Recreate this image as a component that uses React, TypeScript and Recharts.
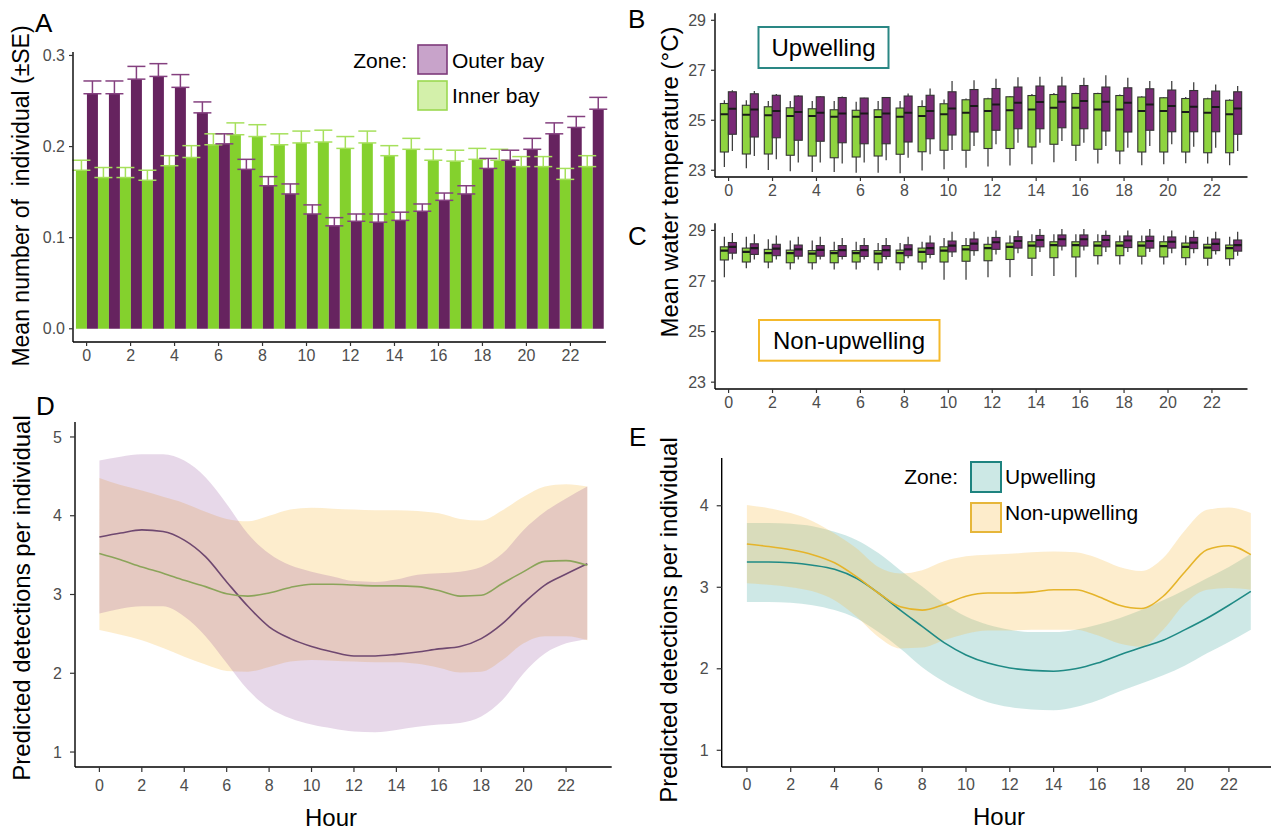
import React from 'react';
import { BarChart, Bar, XAxis, YAxis, ErrorBar, ComposedChart, Area, Line } from 'recharts';

const FONT = '"Liberation Sans", Arial, Helvetica, sans-serif';

// ---------- shared categories ----------
const hours = [0, 1, 2, 3, 4, 5, 6, 7, 8, 9, 10, 11, 12, 13, 14, 15, 16, 17, 18, 19, 20, 21, 22, 23];
const hourTicks = [0, 2, 4, 6, 8, 10, 12, 14, 16, 18, 20, 22];

// ---------- Panel A: mean number of individuals (±SE) ----------
const yTicksA = [0, 0.1, 0.2, 0.3];
const innerMean = [0.174, 0.166, 0.166, 0.163, 0.179, 0.188, 0.202, 0.213, 0.211, 0.202, 0.204, 0.205, 0.198, 0.204, 0.190, 0.197, 0.185, 0.184, 0.186, 0.185, 0.178, 0.178, 0.164, 0.178];
const innerSE = [0.011, 0.011, 0.011, 0.011, 0.011, 0.013, 0.012, 0.013, 0.013, 0.012, 0.013, 0.013, 0.013, 0.013, 0.011, 0.012, 0.012, 0.012, 0.012, 0.012, 0.011, 0.011, 0.012, 0.012];
const outerMean = [0.258, 0.258, 0.274, 0.277, 0.265, 0.237, 0.203, 0.175, 0.157, 0.148, 0.126, 0.113, 0.118, 0.117, 0.119, 0.129, 0.141, 0.148, 0.176, 0.185, 0.197, 0.214, 0.221, 0.241];
const outerSE = [0.014, 0.014, 0.014, 0.014, 0.014, 0.012, 0.011, 0.011, 0.010, 0.011, 0.010, 0.009, 0.008, 0.009, 0.009, 0.008, 0.008, 0.009, 0.011, 0.011, 0.012, 0.012, 0.012, 0.013];

// ---------- Panel B: upwelling water temperature boxes ----------
const tempTicks = [23, 25, 27, 29];
const bInMin = [23.13, 23.08, 23.01, 22.96, 22.93, 22.93, 22.90, 22.90, 22.88, 22.99, 23.04, 23.10, 23.15, 23.19, 23.24, 23.32, 23.37, 23.27, 23.24, 23.20, 23.24, 23.28, 23.27, 23.20];
const bInQ1 = [23.73, 23.65, 23.65, 23.60, 23.57, 23.50, 23.53, 23.57, 23.64, 23.74, 23.80, 23.80, 23.87, 23.87, 23.93, 24.04, 24.00, 23.84, 23.77, 23.73, 23.73, 23.73, 23.70, 23.70];
const bInMed = [25.24, 25.22, 25.20, 25.17, 25.17, 25.14, 25.14, 25.13, 25.14, 25.17, 25.24, 25.30, 25.37, 25.40, 25.43, 25.50, 25.50, 25.43, 25.43, 25.37, 25.37, 25.33, 25.30, 25.24];
const bInQ3 = [25.67, 25.60, 25.54, 25.50, 25.46, 25.42, 25.40, 25.42, 25.49, 25.55, 25.66, 25.82, 25.86, 25.94, 25.99, 26.03, 26.07, 26.07, 25.99, 25.93, 25.90, 25.87, 25.86, 25.80];
const bInMax = [25.80, 25.80, 25.77, 25.77, 25.77, 25.77, 25.74, 25.77, 25.77, 25.80, 25.83, 25.87, 25.90, 25.97, 26.05, 26.09, 26.10, 26.10, 26.03, 25.96, 25.93, 25.93, 25.90, 25.84];
const bOutMin = [23.77, 23.57, 23.44, 23.31, 23.31, 23.27, 23.31, 23.40, 23.50, 23.64, 23.81, 23.97, 24.04, 24.10, 24.10, 24.17, 24.10, 23.97, 23.90, 23.97, 24.04, 23.94, 23.90, 23.77];
const bOutQ1 = [24.44, 24.33, 24.30, 24.20, 24.16, 24.10, 24.06, 24.06, 24.13, 24.26, 24.41, 24.53, 24.60, 24.66, 24.66, 24.70, 24.66, 24.57, 24.53, 24.60, 24.54, 24.54, 24.54, 24.44];
const bOutMed = [25.46, 25.43, 25.37, 25.33, 25.30, 25.27, 25.27, 25.27, 25.30, 25.37, 25.47, 25.57, 25.63, 25.70, 25.73, 25.74, 25.77, 25.74, 25.70, 25.63, 25.57, 25.54, 25.53, 25.47];
const bOutQ3 = [26.14, 26.06, 26.00, 25.97, 25.94, 25.91, 25.89, 25.91, 25.97, 26.00, 26.14, 26.23, 26.27, 26.33, 26.37, 26.37, 26.39, 26.33, 26.30, 26.26, 26.21, 26.19, 26.17, 26.14];
const bOutMax = [26.20, 26.17, 26.05, 26.00, 25.97, 25.95, 25.90, 25.93, 26.07, 26.27, 26.57, 26.60, 26.66, 26.72, 26.74, 26.74, 26.70, 26.80, 26.70, 26.57, 26.57, 26.52, 26.43, 26.37];

// ---------- Panel C: non-upwelling water temperature boxes ----------
const cInMin = [27.15, 27.50, 27.50, 27.45, 27.45, 27.45, 27.45, 27.42, 27.42, 27.45, 27.05, 27.05, 27.15, 27.15, 27.20, 27.20, 27.15, 27.65, 27.65, 27.65, 27.65, 27.62, 27.60, 27.60];
const cInQ1 = [27.83, 27.75, 27.75, 27.72, 27.72, 27.72, 27.75, 27.72, 27.72, 27.75, 27.75, 27.78, 27.80, 27.85, 27.90, 27.92, 27.95, 28.00, 28.00, 27.98, 27.95, 27.92, 27.90, 27.88];
const cInMed = [28.20, 28.15, 28.10, 28.10, 28.08, 28.10, 28.10, 28.08, 28.10, 28.15, 28.20, 28.25, 28.30, 28.35, 28.40, 28.42, 28.42, 28.40, 28.40, 28.40, 28.38, 28.35, 28.32, 28.30];
const cInQ3 = [28.35, 28.30, 28.25, 28.22, 28.20, 28.20, 28.20, 28.20, 28.22, 28.30, 28.35, 28.40, 28.45, 28.50, 28.55, 28.55, 28.55, 28.55, 28.55, 28.55, 28.55, 28.50, 28.45, 28.42];
const cInMax = [28.75, 28.75, 28.65, 28.60, 28.60, 28.55, 28.55, 28.50, 28.50, 28.55, 28.70, 28.70, 28.75, 28.80, 28.85, 28.85, 28.85, 28.85, 28.80, 28.80, 28.80, 28.80, 28.75, 28.75];
const cOutMin = [27.85, 27.85, 27.85, 27.85, 27.85, 27.85, 27.85, 27.85, 27.90, 27.90, 27.95, 28.00, 28.05, 28.10, 28.15, 28.20, 28.20, 28.15, 28.15, 28.15, 28.10, 28.10, 28.05, 28.00];
const cOutQ1 = [28.10, 28.05, 28.00, 27.98, 27.98, 27.97, 27.97, 27.97, 28.00, 28.05, 28.15, 28.20, 28.25, 28.30, 28.35, 28.38, 28.38, 28.35, 28.32, 28.30, 28.30, 28.28, 28.20, 28.18];
const cOutMed = [28.35, 28.30, 28.28, 28.25, 28.23, 28.22, 28.22, 28.22, 28.25, 28.30, 28.40, 28.48, 28.53, 28.58, 28.62, 28.65, 28.65, 28.62, 28.60, 28.58, 28.55, 28.52, 28.47, 28.42];
const cOutQ3 = [28.52, 28.47, 28.45, 28.42, 28.40, 28.40, 28.40, 28.40, 28.43, 28.50, 28.58, 28.66, 28.72, 28.75, 28.80, 28.82, 28.82, 28.80, 28.78, 28.77, 28.74, 28.72, 28.66, 28.62];
const cOutMax = [28.90, 28.85, 28.80, 28.75, 28.75, 28.70, 28.70, 28.70, 28.75, 28.80, 28.95, 28.95, 29.00, 29.00, 29.05, 29.05, 29.05, 29.00, 29.00, 29.05, 29.00, 29.00, 28.95, 28.95];

// ---------- Panel D: predicted detections, outer vs inner bay ----------
const dTicksY = [1, 2, 3, 4, 5];
const dOuterMid = [3.73, 3.78, 3.82, 3.80, 3.69, 3.48, 3.16, 2.85, 2.59, 2.44, 2.34, 2.27, 2.22, 2.22, 2.24, 2.27, 2.31, 2.34, 2.44, 2.63, 2.89, 3.12, 3.26, 3.39];
const dOuterHi = [4.70, 4.75, 4.78, 4.78, 4.70, 4.49, 4.15, 3.77, 3.52, 3.37, 3.29, 3.23, 3.17, 3.16, 3.19, 3.25, 3.27, 3.29, 3.35, 3.52, 3.82, 4.05, 4.22, 4.37];
const dOuterLo = [2.76, 2.82, 2.85, 2.85, 2.72, 2.47, 2.13, 1.79, 1.56, 1.43, 1.35, 1.30, 1.26, 1.25, 1.28, 1.32, 1.35, 1.37, 1.45, 1.66, 2.00, 2.25, 2.38, 2.43];
const dInnerMid = [3.52, 3.44, 3.35, 3.27, 3.18, 3.10, 3.01, 2.98, 3.02, 3.09, 3.13, 3.13, 3.12, 3.11, 3.11, 3.10, 3.05, 2.98, 2.99, 3.14, 3.29, 3.42, 3.43, 3.37];
const dInnerHi = [4.48, 4.39, 4.32, 4.24, 4.16, 4.05, 3.96, 3.93, 4.00, 4.08, 4.10, 4.09, 4.08, 4.07, 4.07, 4.06, 4.03, 3.96, 3.94, 4.07, 4.24, 4.37, 4.40, 4.37];
const dInnerLo = [2.55, 2.49, 2.42, 2.32, 2.21, 2.11, 2.03, 2.02, 2.08, 2.15, 2.17, 2.16, 2.15, 2.14, 2.14, 2.12, 2.07, 2.01, 2.02, 2.17, 2.38, 2.47, 2.47, 2.42];

// ---------- Panel E: predicted detections, upwelling vs non-upwelling ----------
const eTicksY = [1, 2, 3, 4];
const eUpMid = [3.31, 3.31, 3.30, 3.27, 3.22, 3.11, 2.93, 2.72, 2.52, 2.32, 2.17, 2.07, 2.01, 1.98, 1.97, 2.00, 2.07, 2.17, 2.26, 2.35, 2.48, 2.62, 2.78, 2.95];
const eUpHi = [3.79, 3.79, 3.78, 3.75, 3.68, 3.58, 3.42, 3.21, 3.01, 2.80, 2.64, 2.54, 2.48, 2.45, 2.45, 2.48, 2.54, 2.62, 2.72, 2.84, 2.97, 3.11, 3.25, 3.41];
const eUpLo = [2.82, 2.82, 2.81, 2.78, 2.72, 2.62, 2.45, 2.25, 2.02, 1.84, 1.70, 1.59, 1.53, 1.50, 1.49, 1.53, 1.61, 1.72, 1.82, 1.92, 2.04, 2.19, 2.33, 2.48];
const eNonMid = [3.53, 3.50, 3.46, 3.40, 3.30, 3.13, 2.93, 2.76, 2.72, 2.79, 2.89, 2.93, 2.93, 2.94, 2.97, 2.97, 2.89, 2.78, 2.74, 2.89, 3.19, 3.46, 3.51, 3.40];
const eNonHi = [4.01, 3.97, 3.91, 3.81, 3.66, 3.48, 3.25, 3.17, 3.21, 3.32, 3.38, 3.40, 3.41, 3.43, 3.44, 3.43, 3.36, 3.25, 3.20, 3.36, 3.70, 3.95, 3.98, 3.91];
const eNonLo = [3.05, 3.03, 3.00, 2.95, 2.84, 2.64, 2.39, 2.25, 2.26, 2.35, 2.43, 2.47, 2.47, 2.48, 2.48, 2.48, 2.41, 2.31, 2.27, 2.48, 2.80, 2.97, 2.99, 2.97];

// ---------- tables built from the arrays ----------
const tableA = hours.map((h, i) => ({
  hour: h,
  inner: innerMean[i],
  outer: outerMean[i],
  innerErr: [0, innerSE[i]],
  outerErr: [0, outerSE[i]],
}));

const stats = (mn: number[], q1: number[], md: number[], q3: number[], mx: number[], i: number) => ({
  min: mn[i], q1: q1[i], med: md[i], q3: q3[i], max: mx[i],
});

const tableB = hours.map((h, i) => ({
  hour: h,
  inner: stats(bInMin, bInQ1, bInMed, bInQ3, bInMax, i),
  outer: stats(bOutMin, bOutQ1, bOutMed, bOutQ3, bOutMax, i),
}));
const tableC = hours.map((h, i) => ({
  hour: h,
  inner: stats(cInMin, cInQ1, cInMed, cInQ3, cInMax, i),
  outer: stats(cOutMin, cOutQ1, cOutMed, cOutQ3, cOutMax, i),
}));
const tableD = hours.map((h, i) => ({
  hour: h,
  outerMid: dOuterMid[i], outerBand: [dOuterLo[i], dOuterHi[i]],
  innerMid: dInnerMid[i], innerBand: [dInnerLo[i], dInnerHi[i]],
}));
const tableE = hours.map((h, i) => ({
  hour: h,
  upMid: eUpMid[i], upBand: [eUpLo[i], eUpHi[i]],
  nonMid: eNonMid[i], nonBand: [eNonLo[i], eNonHi[i]],
}));

// ---------- styles ----------
const tickStyle = { fill: '#4d4d4d', fontSize: 16, fontFamily: FONT };
const axisLine = { stroke: '#000', strokeWidth: 1.4 };
const tickLine = { stroke: '#333', strokeWidth: 1.2 };

const PURPLE_BAR = '#66235f';
const GREEN_BAR = '#84d12d';

function makeBoxShape(key: 'inner' | 'outer', fill: string) {
  return (props: any) => {
    const { x, y, width, height, payload } = props;
    const s = payload[key];
    const top = Math.min(y, y + height);
    const bot = Math.max(y, y + height);
    const span = s.max - s.min || 1;
    const px = (v: number) => bot - ((v - s.min) / span) * (bot - top);
    const cx = x + width / 2;
    return (
      <g>
        <line x1={cx} x2={cx} y1={px(s.max)} y2={px(s.q3)} stroke="#333" strokeWidth={1.2} />
        <line x1={cx} x2={cx} y1={px(s.q1)} y2={px(s.min)} stroke="#333" strokeWidth={1.2} />
        <rect x={x} y={px(s.q3)} width={width} height={Math.max(0.5, px(s.q1) - px(s.q3))} fill={fill} stroke="#333" strokeWidth={1.1} />
        <line x1={x} x2={x + width} y1={px(s.med)} y2={px(s.med)} stroke="#1a1a1a" strokeWidth={2.2} />
      </g>
    );
  };
}

function TempPanel({ data, top, height, marginTop, xHeight }: any) {
  return (
    <div style={{ position: 'absolute', left: 620, top }}>
      <BarChart width={651} height={height} data={data} margin={{ top: marginTop, right: 23.5, bottom: 0, left: 0 }} barCategoryGap="12.5%" barGap={0}>
        <XAxis dataKey="hour" interval={1} padding={{ left: 2.6, right: 2.6 }} height={xHeight} tick={tickStyle} tickSize={4} tickMargin={4} axisLine={axisLine} tickLine={tickLine} />
        <YAxis width={95} domain={[22.73, 29.28]} ticks={tempTicks} allowDataOverflow tick={tickStyle} tickSize={4} tickMargin={5} axisLine={axisLine} tickLine={tickLine} />
        <Bar dataKey={(d: any) => [d.inner.min, d.inner.max]} isAnimationActive={false} shape={makeBoxShape('inner', '#8fd440')} />
        <Bar dataKey={(d: any) => [d.outer.min, d.outer.max]} isAnimationActive={false} shape={makeBoxShape('outer', '#7a2a77')} />
      </BarChart>
    </div>
  );
}

export default function App() {
  return (
    <div style={{ position: 'absolute', left: 0, top: 0, width: 1271, height: 832, overflow: 'hidden', background: '#fff', fontFamily: FONT }}>
      {/* Panel A */}
      <div style={{ position: 'absolute', left: 0, top: 0 }}>
        <BarChart width={620} height={380} data={tableA} margin={{ top: 52, right: 14, bottom: 0, left: 0 }} barCategoryGap="1.5%" barGap={0}>
          <XAxis dataKey="hour" interval={1} padding={{ left: 2.6, right: 2.6 }} height={38} tick={tickStyle} tickSize={4} tickMargin={4} axisLine={axisLine} tickLine={tickLine} />
          <YAxis width={73} domain={[-0.0145, 0.3038]} ticks={yTicksA} allowDataOverflow tickFormatter={(v: number) => v.toFixed(1)} tick={tickStyle} tickSize={4} tickMargin={4} axisLine={axisLine} tickLine={tickLine} />
          <Bar dataKey="inner" fill={GREEN_BAR} isAnimationActive={false}>
            <ErrorBar dataKey="innerErr" width={9} stroke="#a6e05c" strokeWidth={1.5} direction="y" />
          </Bar>
          <Bar dataKey="outer" fill={PURPLE_BAR} isAnimationActive={false}>
            <ErrorBar dataKey="outerErr" width={9} stroke="#84407f" strokeWidth={1.5} direction="y" />
          </Bar>
        </BarChart>
      </div>

      {/* Panel B */}
      <TempPanel data={tableB} top={0} height={205} marginTop={13.3} xHeight={28} />
      {/* Panel C */}
      <TempPanel data={tableC} top={210} height={210} marginTop={13.3} xHeight={31} />

      {/* Panel D */}
      <div style={{ position: 'absolute', left: 0, top: 400 }}>
        <ComposedChart width={630} height={432} data={tableD} margin={{ top: 22, right: 18.3, bottom: 0, left: 0 }}>
          <XAxis dataKey="hour" type="number" domain={[-1.15, 24.15]} ticks={hourTicks} allowDataOverflow height={65} tick={tickStyle} tickSize={5} tickMargin={8} axisLine={axisLine} tickLine={tickLine} />
          <YAxis width={75} domain={[0.81, 5.19]} ticks={dTicksY} allowDataOverflow tick={tickStyle} tickSize={5} tickMargin={8} axisLine={axisLine} tickLine={tickLine} />
          <Area dataKey="innerBand" type="monotone" stroke="none" fill="#f8c04a" fillOpacity={0.28} isAnimationActive={false} />
          <Area dataKey="outerBand" type="monotone" stroke="none" fill="#873c91" fillOpacity={0.2} isAnimationActive={false} />
          <Line dataKey="outerMid" type="monotone" stroke="#6f4870" strokeWidth={1.6} dot={false} activeDot={false} isAnimationActive={false} />
          <Line dataKey="innerMid" type="monotone" stroke="#8ba45a" strokeWidth={1.6} dot={false} activeDot={false} isAnimationActive={false} />
        </ComposedChart>
      </div>

      {/* Panel E */}
      <div style={{ position: 'absolute', left: 630, top: 400 }}>
        <ComposedChart width={660} height={432} data={tableE} margin={{ top: 58, right: 14, bottom: 0, left: 0 }}>
          <XAxis dataKey="hour" type="number" domain={[-1.15, 24.15]} ticks={hourTicks} allowDataOverflow height={65} tick={tickStyle} tickSize={5} tickMargin={7} axisLine={axisLine} tickLine={tickLine} />
          <YAxis width={91.7} domain={[0.795, 4.586]} ticks={eTicksY} allowDataOverflow tick={tickStyle} tickSize={5} tickMargin={8} axisLine={axisLine} tickLine={tickLine} />
          <Area dataKey="upBand" type="monotone" stroke="none" fill="#3aa39c" fillOpacity={0.25} isAnimationActive={false} />
          <Area dataKey="nonBand" type="monotone" stroke="none" fill="#f8c04a" fillOpacity={0.28} isAnimationActive={false} />
          <Line dataKey="upMid" type="monotone" stroke="#1f8a85" strokeWidth={1.6} dot={false} activeDot={false} isAnimationActive={false} />
          <Line dataKey="nonMid" type="monotone" stroke="#e5b42a" strokeWidth={1.6} dot={false} activeDot={false} isAnimationActive={false} />
        </ComposedChart>
      </div>

      {/* Text overlay: panel letters, axis titles, legends */}
      <svg width={1271} height={832} style={{ position: 'absolute', left: 0, top: 0, pointerEvents: 'none' }} fontFamily={FONT}>
        {/* panel letters */}
        <text x={35} y={32} fontSize={26} fill="#000">A</text>
        <text x={628} y={28} fontSize={26} fill="#000">B</text>
        <text x={628} y={245} fontSize={26} fill="#000">C</text>
        <text x={36} y={415} fontSize={26} fill="#000">D</text>
        <text x={629} y={446} fontSize={26} fill="#000">E</text>

        {/* axis titles */}
        <text x={29} y={196} fontSize={23} textAnchor="middle" transform="rotate(-90 29 196)" fill="#000" style={{ whiteSpace: 'pre' }}>{'Mean number of  individual (±SE)'}</text>
        <text x={678} y={182} fontSize={24} textAnchor="middle" transform="rotate(-90 678 182)" fill="#000">Mean water temperature (°C)</text>
        <text x={30} y={598} fontSize={24} textAnchor="middle" transform="rotate(-90 30 598)" fill="#000">Predicted detections per individual</text>
        <text x={677} y={620} fontSize={24} textAnchor="middle" transform="rotate(-90 677 620)" fill="#000">Predicted detections per individual</text>
        <text x={331} y={826} fontSize={24} textAnchor="middle" fill="#000">Hour</text>
        <text x={999} y={825} fontSize={24} textAnchor="middle" fill="#000">Hour</text>

        {/* legend A */}
        <text x={407} y={67.5} fontSize={21} textAnchor="end" fill="#000">Zone:</text>
        <rect x={418} y={45} width={29} height={29} fill="#c8a3ca" stroke="#7e3a7b" strokeWidth={1.6} />
        <rect x={418} y={81} width={29} height={29} fill="#d3f0aa" stroke="#9bd950" strokeWidth={1.6} />
        <text x={452} y={67.5} fontSize={21} fill="#000">Outer bay</text>
        <text x={452} y={102.5} fontSize={21} fill="#000">Inner bay</text>

        {/* legend E */}
        <text x={958} y={484} fontSize={21} textAnchor="end" fill="#000">Zone:</text>
        <rect x={971} y={462} width={30} height={30} fill="#cce8e5" stroke="#1e837f" strokeWidth={2} />
        <rect x={971} y={503} width={30} height={29} fill="#fdeccb" stroke="#e6b63a" strokeWidth={2} />
        <text x={1005} y={484} fontSize={21} fill="#000">Upwelling</text>
        <text x={1005} y={519.7} fontSize={21} fill="#000">Non-upwelling</text>

        {/* zone boxes in B and C */}
        <rect x={758.5} y={27} width={130} height={41} fill="#fff" stroke="#2a8784" strokeWidth={2} />
        <text x={823.5} y={56} fontSize={24} textAnchor="middle" fill="#000">Upwelling</text>
        <rect x={759} y={320} width={180.5} height={40.7} fill="#fff" stroke="#f4b92c" strokeWidth={2} />
        <text x={849} y={349} fontSize={24} textAnchor="middle" fill="#000">Non-upwelling</text>
      </svg>
    </div>
  );
}
